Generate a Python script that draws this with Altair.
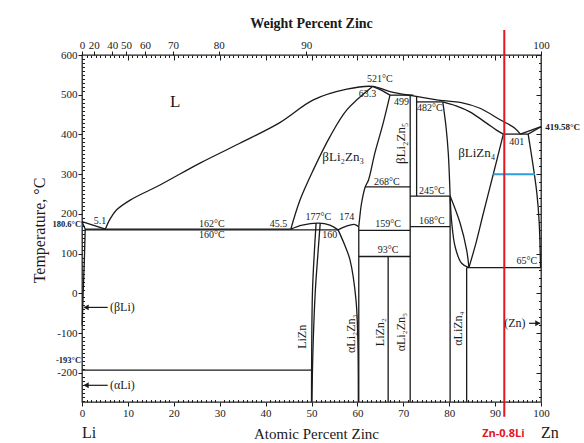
import altair as alt
import pandas as pd

FONT = "'Liberation Serif', 'DejaVu Serif', serif"
INK = "#1a1a1a"
W, H = 459, 347
X_DOMAIN = [0, 100]
T_DOMAIN = [-273, 600]

# ---------------- phase boundaries: (atomic % Zn, temperature in °C) ----------------
liquidus = [(5.1, 162), (6.1, 187), (7.5, 210), (10.5, 235), (17, 273), (25.7, 328),
            (34.4, 378), (43.1, 430), (50.4, 487), (57.7, 514), (63.3, 521), (67.1, 508),
            (72.2, 497), (78.6, 485), (82.4, 481), (86.7, 466), (91.1, 437), (94.3, 416),
            (95.5, 401)]
li_liquidus = [(0, 180.6), (5.1, 162)]
li_solidus = [(0, 180.6), (0.7, 162)]
beta_li_solvus = [(0.7, 162), (0.5, 80), (0.25, 0), (0.05, -80)]
beta_li2zn3_left = [(63.3, 521), (57.7, 462), (54.0, 394), (50.4, 311), (47.5, 235), (45.5, 162)]
beta_li2zn3_top = [(63.3, 521), (65.3, 511), (67.1, 499)]
beta_li2zn3_right = [(67.1, 499), (65.6, 428), (63.8, 353), (62.4, 285), (61.7, 268),
                     (60.9, 227), (60.5, 190), (60.3, 168)]
dome_177 = [(45.5, 162), (48.0, 172), (51.5, 177), (54.0, 172), (55.8, 160)]
bump_174 = [(55.8, 160), (57.5, 169), (59.3, 174), (60.3, 168)]
lizn_left = [(51.0, 177), (50.6, 100), (50.2, 0), (50.0, -273)]
lizn_right = [(51.9, 177), (51.4, 100), (50.8, 0), (50.3, -150), (50.1, -273)]
alpha_li2zn3 = [(55.8, 160), (57.3, 120), (58.4, 84), (59.7, -17), (60.1, -118), (60.2, -273)]
beta_lizn4_left = [(78.6, 482), (79.3, 420), (79.8, 353), (80.2, 245)]
beta_lizn4_solidus = [(78.6, 482), (81.5, 472), (84.5, 457), (88.2, 428), (90.3, 411), (91.8, 401)]
beta_lizn4_right = [(91.8, 401), (89.6, 300), (87.4, 200), (85.9, 130), (84.3, 65)]
lizn4_upper = [(80.2, 245), (82.4, 176), (83.8, 109), (84.3, 65)]
lizn4_lower = [(80.2, 245), (80.5, 185), (81.3, 117), (82.7, 76), (84.3, 65)]
zn_liquidus = [(95.5, 401), (100, 419.58)]
zn_solidus = [(97.2, 401), (100, 419.58)]
zn_solvus = [(97.2, 401), (98.3, 320), (99.1, 252), (99.6, 180), (99.9, 65)]

curves = {
    "liquidus": liquidus, "li_liquidus": li_liquidus, "li_solidus": li_solidus,
    "beta_li_solvus": beta_li_solvus, "b23_left": beta_li2zn3_left, "b23_top": beta_li2zn3_top,
    "b23_right": beta_li2zn3_right, "dome_177": dome_177, "bump_174": bump_174,
    "lizn_left": lizn_left, "lizn_right": lizn_right, "a23": alpha_li2zn3,
    "b14_left": beta_lizn4_left, "b14_solidus": beta_lizn4_solidus, "b14_right": beta_lizn4_right,
    "l4_upper": lizn4_upper, "l4_lower": lizn4_lower, "zn_liq": zn_liquidus,
    "zn_sol": zn_solidus, "zn_solvus": zn_solvus,
}

# invariant lines and compound lines: (x1, T1, x2, T2)
segments = [
    (0.7, 162, 45.5, 162), (0.7, 160, 55.8, 160), (0, -193, 50.0, -193),
    (61.7, 268, 71.5, 268), (60.3, 159, 71.5, 159), (60.3, 93, 71.5, 93),
    (67.1, 499, 72.2, 499), (72.9, 482, 78.6, 482), (71.5, 245, 80.2, 245),
    (71.5, 168, 80.2, 168), (91.8, 401, 97.2, 401), (83.8, 65, 100, 65),
    (60.3, 168, 60.3, -273), (66.7, 93, 66.7, -273), (71.5, 499, 71.5, -273),
    (72.9, 495, 72.9, 245), (80.2, 245, 80.2, -273), (83.8, 65, 83.8, -273),
]

# alloy marker and isotherm
alloy_x = [92.0]
alloy_t = [663]
alloy_t2 = [-310]
iso_x = [89.6]
iso_x2 = [98.7]
iso_t = [300]

# phase / temperature annotations: text, x, T, size, angle
labels = [
    ("L", 20.3, 483, 17, 0), ("βLi₂Zn₃", 56.9, 344, 13, 0), ("βLiZn₄", 86.0, 353, 13, 0),
    ("βLi₂Zn₅", 69.6, 378, 13, 270), ("521°C", 64.9, 540, 10, 0), ("63.3", 62.2, 503, 10, 0),
    ("499", 69.6, 483, 10, 0), ("482°C", 75.8, 466, 10, 0), ("401", 94.7, 382, 10, 0),
    ("268°C", 66.4, 281, 10, 0), ("245°C", 76.2, 258, 10, 0), ("168°C", 76.2, 183, 10, 0),
    ("159°C", 66.7, 176, 10, 0), ("93°C", 66.7, 109, 10, 0), ("177°C", 51.5, 193, 10, 0),
    ("174", 57.7, 193, 10, 0), ("160", 54.0, 147, 10, 0), ("45.5", 42.8, 176, 10, 0),
    ("5.1", 3.9, 183, 10, 0), ("162°C", 28.3, 176, 10, 0), ("160°C", 28.3, 147, 10, 0),
    ("65°C", 96.9, 81, 10, 0), ("LiZn", 47.9, -109, 12, 270), ("αLi₂Zn₃", 58.6, -101, 12, 270),
    ("LiZn₂", 64.9, -97, 12, 270), ("αLi₂Zn₅", 69.6, -97, 12, 270), ("αLiZn₄", 82.0, -88, 12, 270),
    ("(Zn)", 94.3, -75, 12, 0), ("(βLi)", 8.8, -35, 12, 0), ("(αLi)", 8.8, -231, 12, 0),
]
edge_left_labels = [("180.6°C", -0.2, 175), ("-193°C", -0.2, -167)]
edge_right_labels = [("419.58°C", 100.9, 420)]
end_labels = [("Li", 0.0, -351), ("Zn", 100.0, -351)]
alloy_label = [("Zn-0.8Li", 91.8, -353)]

# arrows: shaft from x to x2 at T, head at hx pointing dir
arrows = [(0.5, 5.6, -35, 0.9, "left"), (0.5, 5.6, -231, 0.9, "left"), (97.4, 99.8, -75, 99.3, "right")]

# weight-percent labels of the top axis
wt_labels = [0, 20, 40, 50, 60, 70, 80, 90, 100]


def at_from_wt(w, m_zn=65.38, m_li=6.94):
    if w >= 100:
        return 100.0
    return 100 * (w / m_zn) / (w / m_zn + (100 - w) / m_li)


wt_pos = [at_from_wt(w) for w in wt_labels]
wt_expr = " : ".join(f"abs(datum.value - {p:.4f}) < 0.01 ? '{w}'" for w, p in zip(wt_labels, wt_pos)) + " : ''"

# ---------------- data frames ----------------
curve_df = pd.DataFrame([{"id": k, "i": i, "x": p[0], "t": p[1]}
                         for k, pts in curves.items() for i, p in enumerate(pts)])
seg_df = pd.DataFrame(segments, columns=["x", "t", "x2", "t2"])
alloy_df = pd.DataFrame({"x": alloy_x, "t": alloy_t, "t2": alloy_t2})
iso_df = pd.DataFrame({"x": iso_x, "x2": iso_x2, "t": iso_t})
label_df = pd.DataFrame(labels, columns=["label", "x", "t", "size", "angle"])
edge_l_df = pd.DataFrame(edge_left_labels, columns=["label", "x", "t"])
edge_r_df = pd.DataFrame(edge_right_labels, columns=["label", "x", "t"])
end_df = pd.DataFrame(end_labels, columns=["label", "x", "t"])
alloy_lbl_df = pd.DataFrame(alloy_label, columns=["label", "x", "t"])
arrow_df = pd.DataFrame(arrows, columns=["x", "x2", "t", "hx", "dir"])

xs = alt.Scale(domain=X_DOMAIN, nice=False, zero=False)
ts = alt.Scale(domain=T_DOMAIN, nice=False, zero=False)

common = dict(grid=False, domain=False, tickColor=INK, labelColor=INK, titleColor=INK,
              labelFont=FONT, titleFont=FONT)

x_bottom = alt.Axis(orient="bottom", values=list(range(0, 101, 10)), tickSize=4, labelPadding=1,
                    labelFontSize=11, labelFlush=False, labelOverlap=False,
                    title="Atomic Percent Zinc", titleFontSize=15, titleFontWeight="normal",
                    titleX=234, titleY=31, titleBaseline="middle", **common)
x_top_wt = alt.Axis(orient="top", values=wt_pos, labelExpr=wt_expr, tickSize=4, labelPadding=1,
                    labelFontSize=11, labelFlush=False, labelOverlap=False,
                    title="Weight Percent Zinc", titleFontSize=14, titleFontWeight="bold",
                    titleX=229, titleY=-32, titleBaseline="middle", **common)
x_bottom_in = alt.Axis(orient="top", offset=-H, values=[v for v in range(1, 100) if v % 10],
                       tickSize=2.5, labels=False, title=None, **common)
x_top_in = alt.Axis(orient="bottom", offset=-H, values=list(range(1, 100)),
                    tickSize={"condition": {"test": "datum.value % 10 === 0", "value": 5}, "value": 2.5},
                    labels=False, title=None, **common)
y_left = alt.Axis(orient="left", values=list(range(-200, 601, 100)), tickSize=4, labelPadding=1,
                  labelFontSize=11, labelFlush=False, labelOverlap=False,
                  labelExpr="datum.value < 0 ? '-' + abs(datum.value) : '' + datum.value",
                  title="Temperature, °C", titleFontSize=16, titleFontWeight="normal",
                  titleX=-43, titleY=175, titleBaseline="middle", titleAngle=270, **common)
y_left_in = alt.Axis(orient="right", offset=-W, values=[v for v in range(-270, 601, 10) if v % 100],
                     tickSize=2.5, labels=False, title=None, **common)
y_right_in = alt.Axis(orient="left", offset=-W, values=list(range(-260, 601, 20)),
                      tickSize={"condition": {"test": "datum.value % 100 === 0", "value": 5}, "value": 2.5},
                      labels=False, title=None, **common)

X = lambda f, axis=None: alt.X(f, type="quantitative", scale=xs, axis=axis)
Y = lambda f, axis=None: alt.Y(f, type="quantitative", scale=ts, axis=axis)

boundaries = alt.Chart(curve_df).mark_line(interpolate="catmull-rom", color=INK, strokeWidth=1.3).encode(
    x=X("x", x_bottom), y=Y("t", y_left), detail="id:N", order="i:Q")

lines = alt.Chart(seg_df).mark_rule(color=INK, strokeWidth=1.3).encode(
    x=X("x", x_top_wt), x2="x2:Q", y=Y("t", y_left_in), y2="t2:Q")

alloy = alt.Chart(alloy_df).mark_rule(color="#e3161d", strokeWidth=2).encode(
    x=X("x", x_bottom_in), y=Y("t", y_right_in), y2="t2:Q")

isotherm = alt.Chart(iso_df).mark_rule(color="#2b9fdc", strokeWidth=2).encode(
    x=X("x", x_top_in), x2="x2:Q", y=Y("t"))

text_phase = alt.Chart(label_df).mark_text(font=FONT, color=INK, baseline="middle", align="center").encode(
    x=X("x"), y=Y("t"), text="label:N", size=alt.Size("size:Q", scale=None),
    angle=alt.Angle("angle:Q", scale=None))

text_edge_l = alt.Chart(edge_l_df).mark_text(font=FONT, color=INK, fontWeight="bold", fontSize=8.5,
                                             align="right", baseline="middle").encode(
    x=X("x"), y=Y("t"), text="label:N")
text_edge_r = alt.Chart(edge_r_df).mark_text(font=FONT, color=INK, fontWeight="bold", fontSize=9,
                                             align="left", baseline="middle").encode(
    x=X("x"), y=Y("t"), text="label:N")
text_end = alt.Chart(end_df).mark_text(font=FONT, color=INK, fontSize=16, align="left",
                                       baseline="middle").encode(
    x=X("x"), y=Y("t"), text="label:N")
text_alloy = alt.Chart(alloy_lbl_df).mark_text(font="Open Sans", color="#e3161d", fontSize=11,
                                               fontWeight="bold", align="center", baseline="middle").encode(
    x=X("x"), y=Y("t"), text="label:N")

shafts = alt.Chart(arrow_df).mark_rule(color=INK, strokeWidth=1.2).encode(
    x=X("x"), x2="x2:Q", y=Y("t"))
heads = alt.Chart(arrow_df).mark_point(filled=True, color=INK, opacity=1, size=35).encode(
    x=X("hx"), y=Y("t"),
    shape=alt.Shape("dir:N", scale=alt.Scale(domain=["left", "right"],
                                             range=["triangle-left", "triangle-right"]), legend=None))

chart = alt.layer(
    boundaries, lines, isotherm, alloy, shafts, heads,
    text_phase, text_edge_l, text_edge_r, text_end, text_alloy,
).resolve_axis(x="independent", y="independent").properties(
    width=W, height=H,
    autosize=alt.AutoSizeParams(type="none"),
    padding={"left": 82, "top": 55, "right": 43, "bottom": 41},
    background="white",
).configure_view(stroke="#222222", strokeWidth=1.3)

chart.save("out.html", embed_options={"renderer": "svg", "actions": False})
